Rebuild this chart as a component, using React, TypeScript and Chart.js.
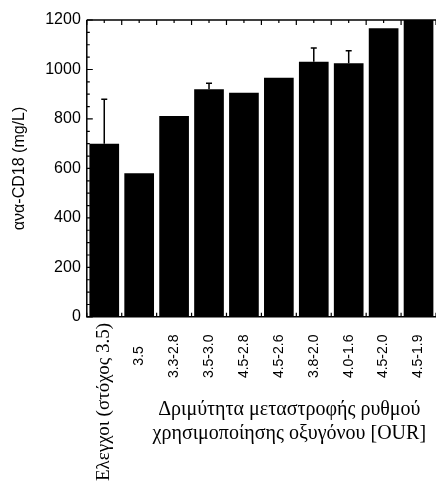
import React, { useEffect, useRef } from 'react';
import { Chart, registerables } from 'chart.js';

Chart.register(...registerables);

const categories = [
  'Ελεγχοι (στόχος 3.5)',
  '3.5',
  '3.3-2.8',
  '3.5-3.0',
  '4.5-2.8',
  '4.5-2.6',
  '3.8-2.0',
  '4.0-1.6',
  '4.5-2.0',
  '4.5-1.9',
];
const values = [700, 581, 812, 920, 906, 967, 1031, 1025, 1167, 1200];
const errors = [180, 0, 0, 24, 0, 0, 56, 51, 0, 0];
const yMin = 0;
const yMax = 1200;
const yStep = 200;
const yMinorStep = 50;
const yTitle = 'ανα-CD18 (mg/L)';
const xTitleLines = ['Δριμύτητα μεταστροφής ρυθμού', 'χρησιμοποίησης οξυγόνου [OUR]'];

const SANS = '"Liberation Sans", Arial, sans-serif';
const SERIF = '"Liberation Serif", "Times New Roman", serif';

const errorBarPlugin = {
  id: 'errorBars',
  afterDatasetsDraw(chart: any) {
    const ctx = chart.ctx;
    const yScale = chart.scales.y;
    const meta = chart.getDatasetMeta(0);
    ctx.save();
    ctx.strokeStyle = '#000';
    ctx.lineWidth = 1.5;
    meta.data.forEach((el: any, i: number) => {
      const e = errors[i];
      if (!e) return;
      const x = el.x;
      const y0 = yScale.getPixelForValue(values[i]);
      const y1 = yScale.getPixelForValue(values[i] + e);
      ctx.beginPath();
      ctx.moveTo(x, y0);
      ctx.lineTo(x, y1);
      ctx.moveTo(x - 3, y1);
      ctx.lineTo(x + 3, y1);
      ctx.stroke();
    });
    ctx.restore();
  },
};

const framePlugin = {
  id: 'frame',
  afterDraw(chart: any) {
    const ctx = chart.ctx;
    const { left, top, right, bottom } = chart.chartArea;
    const yScale = chart.scales.y;
    const n = categories.length;
    const w = (right - left) / n;
    ctx.save();
    ctx.strokeStyle = '#000';
    ctx.lineWidth = 1.5;
    ctx.beginPath();
    ctx.moveTo(left, top);
    ctx.lineTo(right, top);
    ctx.moveTo(left, top);
    ctx.lineTo(left, bottom);
    ctx.lineTo(right, bottom);
    ctx.stroke();
    ctx.lineWidth = 1.2;
    ctx.beginPath();
    for (let v = yMin; v <= yMax; v += yMinorStep) {
      const y = yScale.getPixelForValue(v);
      const len = v % yStep === 0 ? 6 : 3;
      ctx.moveTo(left, y);
      ctx.lineTo(left + len, y);
    }
    for (let i = 0; i <= n; i++) {
      const x = left + i * w;
      ctx.moveTo(x, top);
      ctx.lineTo(x, top + 5);
      ctx.moveTo(x, bottom);
      ctx.lineTo(x, bottom - 4);
      if (i < n) {
        ctx.moveTo(x + w / 2, top);
        ctx.lineTo(x + w / 2, top + 3);
      }
    }
    ctx.stroke();
    ctx.restore();
  },
};

const xTitlePlugin = {
  id: 'xTitle',
  afterDraw(chart: any) {
    const ctx = chart.ctx;
    const { left, right, bottom } = chart.chartArea;
    const cx = left + (right - left) * 0.58;
    ctx.save();
    ctx.fillStyle = '#000';
    ctx.font = `20px ${SERIF}`;
    ctx.textAlign = 'center';
    ctx.textBaseline = 'middle';
    xTitleLines.forEach((line, i) => {
      ctx.fillText(line, cx, bottom + 93 + i * 24);
    });
    ctx.restore();
  },
};

export default function App() {
  const canvasRef = useRef<HTMLCanvasElement | null>(null);

  useEffect(() => {
    if (!canvasRef.current) return;
    const chart = new Chart(canvasRef.current, {
      type: 'bar',
      data: {
        labels: categories,
        datasets: [
          {
            data: values,
            backgroundColor: '#000',
            borderWidth: 0,
            barPercentage: 0.85,
            categoryPercentage: 1.0,
          },
        ],
      },
      options: {
        animation: false,
        responsive: true,
        maintainAspectRatio: false,
        layout: { padding: { left: 8, top: 20, right: 0, bottom: 0 } },
        plugins: {
          legend: { display: false },
          tooltip: { enabled: false },
        },
        scales: {
          x: {
            grid: { display: false, drawTicks: false },
            border: { display: false },
            afterFit: (scale: any) => {
              scale.paddingLeft = 0;
              scale.paddingRight = 0;
            },
            ticks: {
              color: '#000',
              maxRotation: 90,
              minRotation: 90,
              autoSkip: false,
              padding: 6,
              font: (c: any) =>
                c.index === 0
                  ? { family: SERIF, size: 19 }
                  : { family: SANS, size: 14 },
              callback: (_v: any, i: number) => {
                const label = categories[i];
                if (i === 0) return label;
                return label + ' '.repeat(3 + Math.round((7 - label.length) * 0.85));
              },
            },
          },
          y: {
            min: yMin,
            max: yMax,
            grid: { display: false, drawTicks: false },
            border: { display: false },
            ticks: {
              stepSize: yStep,
              color: '#000',
              padding: 6,
              font: { family: SANS, size: 16 },
              callback: (v: any) => String(v),
            },
            title: {
              display: true,
              text: yTitle,
              color: '#000',
              font: { family: SANS, size: 16 },
              padding: { top: 2, bottom: 10 },
            },
          },
        },
      },
      plugins: [errorBarPlugin, framePlugin, xTitlePlugin],
    });
    return () => chart.destroy();
  }, []);

  return (
    <div style={{ position: 'absolute', left: 0, top: 0, width: 436, height: 487 }}>
      <canvas ref={canvasRef} />
    </div>
  );
}
